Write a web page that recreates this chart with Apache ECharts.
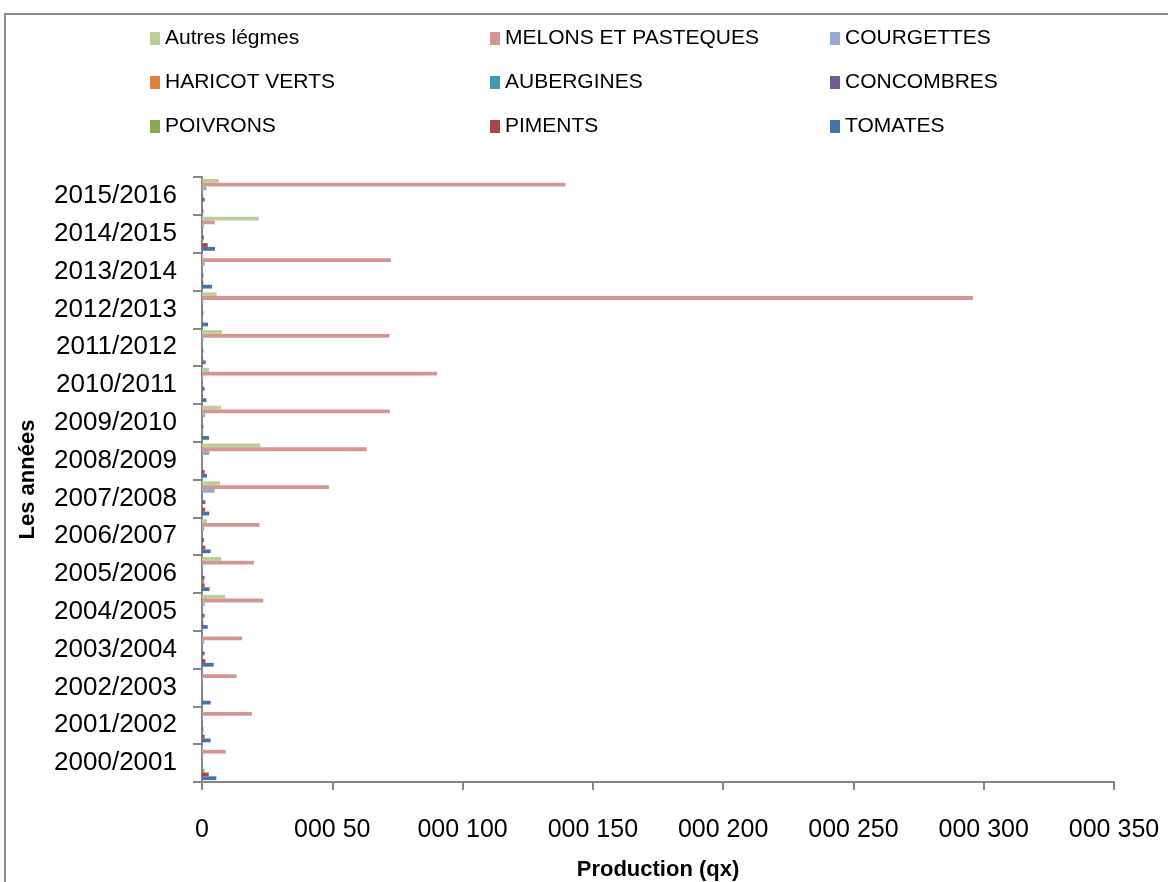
<!DOCTYPE html>
<html>
<head>
<meta charset="utf-8">
<script src="https://cdn.jsdelivr.net/npm/echarts@6/dist/echarts.min.js"></script>
<style>
  html, body { margin: 0; padding: 0; background: #fff; }
  #chartmain { width: 1168px; height: 882px; }
</style>
</head>
<body>
<div id="chartmain"></div>
<script>
// années (axe des catégories, de bas en haut)
var years = ['2000/2001', '2001/2002', '2002/2003', '2003/2004', '2004/2005', '2005/2006',
	'2006/2007', '2007/2008', '2008/2009', '2009/2010', '2010/2011', '2011/2012',
	'2012/2013', '2013/2014', '2014/2015', '2015/2016'];

// production (qx) par culture
var autres = [300, 0, 0, 0, 8800, 7400, 1900, 6900, 22400, 7300, 2700, 7700, 5600, 500, 21800, 6400];
var melons = [9100, 19200, 13300, 15400, 23500, 19900, 22100, 48700, 63200, 72100, 90200, 71900, 295900, 72500, 4900, 139500];
var courgettes = [500, 300, 300, 800, 1000, 500, 800, 4900, 2800, 1200, 500, 600, 500, 1000, 700, 1800];
var haricot = [0, 0, 0, 0, 0, 0, 0, 0, 300, 0, 0, 0, 0, 0, 0, 0];
var aubergines = [0, 0, 0, 0, 0, 0, 0, 0, 0, 0, 0, 0, 0, 0, 0, 500];
var concombres = [0, 500, 0, 1000, 1000, 1000, 800, 1300, 0, 500, 1000, 500, 500, 500, 700, 1000];
var poivrons = [900, 0, 0, 0, 0, 800, 0, 400, 0, 0, 0, 0, 0, 0, 0, 0];
var piments = [2600, 1000, 300, 1300, 500, 1000, 1300, 1200, 1000, 0, 300, 400, 0, 500, 2200, 0];
var tomates = [5500, 3300, 3300, 4500, 2200, 2900, 3300, 2800, 1900, 2700, 1700, 1400, 2300, 3800, 5000, 500];

var names = ['Autres légmes', 'MELONS ET PASTEQUES', 'COURGETTES', 'HARICOT VERTS', 'AUBERGINES',
	'CONCOMBRES', 'POIVRONS', 'PIMENTS', 'TOMATES'];
var values = [autres, melons, courgettes, haricot, aubergines, concombres, poivrons, piments, tomates];
var colors = ['#BACF97', '#D59593', '#95AAD3', '#DF833B', '#3F9BB1', '#725A92', '#8AA84C', '#AC4644', '#4572A8'];

var font = 'Liberation Sans, Arial, sans-serif';

var series = [];
for (var i = 0; i < names.length; i++) {
	series.push({
		name : names[i],
		type : 'bar',
		barGap : '0%',
		barCategoryGap : '10%',
		itemStyle : { color : colors[i] },
		data : values[i]
	});
}

// légende sur 3 colonnes
var legendCols = [[0, 3, 6], [1, 4, 7], [2, 5, 8]];
var legendLeft = [145, 485, 825];
var legends = legendCols.map(function(col, c) {
	return {
		orient : 'vertical',
		left : legendLeft[c],
		top : 21,
		itemWidth : 10,
		itemHeight : 13,
		itemGap : 19,
		icon : 'rect',
		textStyle : { fontFamily : font, fontSize : 21, color : '#000', lineHeight : 25 },
		data : col.map(function(k) { return names[k]; })
	};
});

var option = {
	animation : false,
	backgroundColor : '#fff',
	legend : legends,
	graphic : [{
		type : 'rect',
		shape : { x : 5, y : 14, width : 1200, height : 900 },
		style : { fill : 'none', stroke : '#8c8c8c', lineWidth : 2 }
	}],
	grid : {
		left : 202,
		right : 54,
		top : 177,
		bottom : 100,
		outerBoundsMode : 'none',
		containLabel : false
	},
	xAxis : {
		type : 'value',
		min : 0,
		max : 350000,
		interval : 50000,
		name : 'Production (qx)',
		nameLocation : 'middle',
		nameGap : 77,
		nameTextStyle : { fontFamily : font, fontSize : 22, fontWeight : 'bold', color : '#000' },
		splitLine : { show : false },
		axisLine : { show : true, lineStyle : { color : '#868686', width : 2 } },
		axisTick : { show : true, length : 8, lineStyle : { color : '#868686', width : 2 } },
		axisLabel : {
			margin : 36,
			fontFamily : font,
			fontSize : 25,
			color : '#000',
			formatter : function(v) { return v === 0 ? '0' : '000 ' + v / 1000; }
		}
	},
	yAxis : {
		type : 'category',
		data : years,
		name : 'Les années',
		nameLocation : 'middle',
		nameGap : 163,
		nameTextStyle : { fontFamily : font, fontSize : 22, fontWeight : 'bold', color : '#000' },
		axisLine : { show : true, lineStyle : { color : '#868686', width : 2 } },
		axisTick : { show : true, length : 9, lineStyle : { color : '#868686', width : 2 } },
		axisLabel : { margin : 25, fontFamily : font, fontSize : 26, color : '#000' }
	},
	series : series
};

var myChart = echarts.init(document.getElementById('chartmain'));
myChart.setOption(option);
</script>
</body>
</html>
